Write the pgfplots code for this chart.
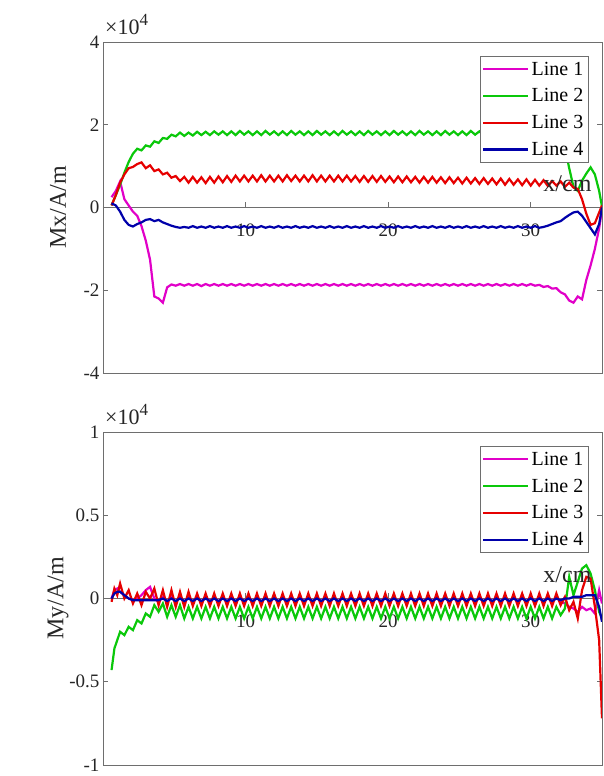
\documentclass[border=0pt]{standalone}
\usepackage{pgfplots}
\pgfplotsset{compat=1.18}
\usepackage{pgfplotstable}
\usepackage{fontspec}
\setmainfont{Liberation Serif}
\definecolor{c1}{RGB}{225,0,200}
\definecolor{c2}{RGB}{10,200,10}
\definecolor{c3}{RGB}{230,0,0}
\definecolor{c4}{RGB}{0,0,170}
\definecolor{axc}{RGB}{110,110,110}

\pgfplotstableread{
x a b c d
0.6 0.25 0.05 0.05 0.10
0.9 0.40 0.30 0.30 0.05
1.2 0.63 0.55 0.60 -0.10
1.5 0.20 0.84 0.80 -0.30
1.8 0.05 1.10 0.95 -0.42
2.1 -0.10 1.30 0.98 -0.46
2.4 -0.20 1.42 1.05 -0.40
2.7 -0.45 1.38 1.09 -0.36
3.0 -0.80 1.50 0.95 -0.30
3.3 -1.26 1.47 1.02 -0.28
3.6 -2.15 1.60 0.88 -0.33
3.9 -2.20 1.56 0.92 -0.30
4.2 -2.30 1.68 0.80 -0.36
4.5 -1.93 1.66 0.84 -0.40
4.8 -1.86 1.76 0.72 -0.44
5.1 -1.89 1.72 0.76 -0.47
5.4 -1.85 1.81 0.64 -0.49
5.7 -1.89 1.73 0.74 -0.47
6.0 -1.85 1.81 0.60 -0.49
6.3 -1.89 1.74 0.74 -0.45
6.6 -1.85 1.83 0.60 -0.49
6.9 -1.90 1.75 0.73 -0.46
7.2 -1.85 1.83 0.59 -0.49
7.5 -1.89 1.75 0.74 -0.45
7.8 -1.85 1.84 0.60 -0.49
8.1 -1.89 1.76 0.75 -0.46
8.4 -1.85 1.84 0.61 -0.49
8.7 -1.89 1.75 0.76 -0.45
9.0 -1.85 1.84 0.62 -0.49
9.3 -1.89 1.75 0.77 -0.46
9.6 -1.85 1.85 0.63 -0.49
9.9 -1.89 1.76 0.77 -0.45
10.2 -1.85 1.84 0.63 -0.49
10.5 -1.89 1.75 0.77 -0.46
10.8 -1.85 1.84 0.63 -0.49
11.1 -1.89 1.75 0.78 -0.45
11.4 -1.85 1.85 0.63 -0.49
11.7 -1.89 1.76 0.77 -0.46
12.0 -1.85 1.84 0.63 -0.49
12.3 -1.89 1.75 0.77 -0.45
12.6 -1.85 1.84 0.63 -0.49
12.9 -1.89 1.75 0.78 -0.46
13.2 -1.85 1.85 0.64 -0.49
13.5 -1.89 1.76 0.77 -0.45
13.8 -1.85 1.84 0.63 -0.49
14.1 -1.89 1.75 0.77 -0.46
14.4 -1.85 1.84 0.63 -0.49
14.7 -1.89 1.75 0.78 -0.45
15.0 -1.85 1.85 0.63 -0.49
15.3 -1.89 1.76 0.77 -0.46
15.6 -1.85 1.84 0.63 -0.49
15.9 -1.89 1.75 0.77 -0.45
16.2 -1.85 1.84 0.63 -0.49
16.5 -1.89 1.75 0.77 -0.46
16.8 -1.85 1.85 0.63 -0.49
17.1 -1.89 1.76 0.77 -0.45
17.4 -1.85 1.84 0.63 -0.49
17.7 -1.89 1.75 0.76 -0.46
18.0 -1.85 1.84 0.62 -0.49
18.3 -1.89 1.75 0.76 -0.45
18.6 -1.85 1.85 0.62 -0.49
18.9 -1.89 1.76 0.76 -0.46
19.2 -1.85 1.84 0.62 -0.49
19.5 -1.89 1.75 0.76 -0.45
19.8 -1.85 1.84 0.62 -0.49
20.1 -1.89 1.75 0.75 -0.46
20.4 -1.85 1.85 0.61 -0.49
20.7 -1.89 1.76 0.75 -0.45
21.0 -1.85 1.84 0.61 -0.49
21.3 -1.89 1.75 0.75 -0.46
21.6 -1.85 1.84 0.61 -0.49
21.9 -1.89 1.75 0.74 -0.45
22.2 -1.85 1.85 0.60 -0.49
22.5 -1.89 1.76 0.74 -0.46
22.8 -1.85 1.84 0.60 -0.49
23.1 -1.89 1.75 0.74 -0.45
23.4 -1.85 1.84 0.60 -0.49
23.7 -1.89 1.75 0.73 -0.46
24.0 -1.85 1.85 0.59 -0.49
24.3 -1.89 1.76 0.73 -0.45
24.6 -1.85 1.84 0.59 -0.49
24.9 -1.89 1.75 0.72 -0.46
25.2 -1.85 1.84 0.58 -0.49
25.5 -1.89 1.75 0.72 -0.45
25.8 -1.85 1.85 0.58 -0.49
26.1 -1.89 1.76 0.71 -0.46
26.4 -1.85 1.84 0.57 -0.49
26.7 -1.89 1.75 0.71 -0.45
27.0 -1.85 1.84 0.57 -0.49
27.3 -1.89 1.75 0.70 -0.46
27.6 -1.85 1.85 0.56 -0.49
27.9 -1.89 1.76 0.70 -0.45
28.2 -1.85 1.84 0.55 -0.49
28.5 -1.89 1.75 0.69 -0.46
28.8 -1.85 1.84 0.55 -0.49
29.1 -1.89 1.75 0.68 -0.45
29.4 -1.85 1.85 0.54 -0.49
29.7 -1.89 1.76 0.68 -0.46
30.0 -1.85 1.84 0.53 -0.49
30.3 -1.89 1.75 0.67 -0.45
30.6 -1.87 1.84 0.53 -0.49
30.9 -1.92 1.75 0.66 -0.47
31.2 -1.90 1.84 0.52 -0.44
31.5 -1.96 1.75 0.64 -0.40
31.8 -1.95 1.82 0.53 -0.36
32.1 -2.05 1.76 0.63 -0.33
32.4 -2.10 1.45 0.50 -0.25
32.7 -2.25 0.95 0.60 -0.18
33.0 -2.30 0.50 0.48 -0.12
33.3 -2.15 0.40 0.45 -0.10
33.6 -2.22 0.65 0.20 -0.20
33.9 -1.75 0.82 -0.15 -0.35
34.2 -1.40 0.97 -0.42 -0.50
34.5 -1.00 0.80 -0.38 -0.65
34.8 -0.50 0.40 -0.12 -0.40
35.0 -0.05 0.02 0.05 0.00
}\topdata

\pgfplotstableread{
x a b c d
0.6 0.00 -0.43 -0.02 0.00
0.8 0.05 -0.30 0.06 0.03
1.0 0.06 -0.25 0.02 0.04
1.2 0.04 -0.20 0.09 0.04
1.5 0.02 -0.22 0.00 0.02
1.8 0.00 -0.17 0.05 0.00
2.1 -0.01 -0.19 -0.03 -0.01
2.4 0.00 -0.13 0.03 -0.01
2.7 0.02 -0.15 -0.04 -0.01
3.0 0.05 -0.09 0.04 -0.01
3.3 0.07 -0.11 0.00 -0.01
3.6 0.00 -0.04 0.06 -0.01
3.9 -0.02 -0.08 -0.04 -0.01
4.2 0.01 -0.03 0.05 0.00
4.5 -0.02 -0.11 -0.05 -0.015
4.8 0.01 -0.04 0.05 0.00
5.1 -0.02 -0.11 -0.05 -0.015
5.4 0.01 -0.04 0.04 0.00
5.7 -0.02 -0.12 -0.05 -0.015
6.0 0.01 -0.05 0.04 0.00
6.3 -0.02 -0.12 -0.045 -0.015
6.6 0.01 -0.05 0.03 0.00
6.9 -0.02 -0.12 -0.045 -0.015
7.2 0.01 -0.05 0.03 0.00
7.5 -0.02 -0.12 -0.045 -0.015
7.8 0.01 -0.05 0.03 0.00
8.1 -0.02 -0.12 -0.045 -0.015
8.4 0.01 -0.05 0.03 0.00
8.7 -0.02 -0.12 -0.045 -0.015
9.0 0.01 -0.05 0.03 0.00
9.3 -0.02 -0.12 -0.045 -0.015
9.6 0.01 -0.05 0.03 0.00
9.9 -0.02 -0.12 -0.045 -0.015
10.2 0.01 -0.05 0.03 0.00
10.5 -0.02 -0.12 -0.045 -0.015
10.8 0.01 -0.05 0.03 0.00
11.1 -0.02 -0.12 -0.045 -0.015
11.4 0.01 -0.05 0.03 0.00
11.7 -0.02 -0.12 -0.045 -0.015
12.0 0.01 -0.05 0.03 0.00
12.3 -0.02 -0.12 -0.045 -0.015
12.6 0.01 -0.05 0.03 0.00
12.9 -0.02 -0.12 -0.045 -0.015
13.2 0.01 -0.05 0.03 0.00
13.5 -0.02 -0.12 -0.045 -0.015
13.8 0.01 -0.05 0.03 0.00
14.1 -0.02 -0.12 -0.045 -0.015
14.4 0.01 -0.05 0.03 0.00
14.7 -0.02 -0.12 -0.045 -0.015
15.0 0.01 -0.05 0.03 0.00
15.3 -0.02 -0.12 -0.045 -0.015
15.6 0.01 -0.05 0.03 0.00
15.9 -0.02 -0.12 -0.045 -0.015
16.2 0.01 -0.05 0.03 0.00
16.5 -0.02 -0.12 -0.045 -0.015
16.8 0.01 -0.05 0.03 0.00
17.1 -0.02 -0.12 -0.045 -0.015
17.4 0.01 -0.05 0.03 0.00
17.7 -0.02 -0.12 -0.045 -0.015
18.0 0.01 -0.05 0.03 0.00
18.3 -0.02 -0.12 -0.045 -0.015
18.6 0.01 -0.05 0.03 0.00
18.9 -0.02 -0.12 -0.045 -0.015
19.2 0.01 -0.05 0.03 0.00
19.5 -0.02 -0.12 -0.045 -0.015
19.8 0.01 -0.05 0.03 0.00
20.1 -0.02 -0.12 -0.045 -0.015
20.4 0.01 -0.05 0.03 0.00
20.7 -0.02 -0.12 -0.045 -0.015
21.0 0.01 -0.05 0.03 0.00
21.3 -0.02 -0.12 -0.045 -0.015
21.6 0.01 -0.05 0.03 0.00
21.9 -0.02 -0.12 -0.045 -0.015
22.2 0.01 -0.05 0.03 0.00
22.5 -0.02 -0.12 -0.045 -0.015
22.8 0.01 -0.05 0.03 0.00
23.1 -0.02 -0.12 -0.045 -0.015
23.4 0.01 -0.05 0.03 0.00
23.7 -0.02 -0.12 -0.045 -0.015
24.0 0.01 -0.05 0.03 0.00
24.3 -0.02 -0.12 -0.045 -0.015
24.6 0.01 -0.05 0.03 0.00
24.9 -0.02 -0.12 -0.045 -0.015
25.2 0.01 -0.05 0.03 0.00
25.5 -0.02 -0.12 -0.045 -0.015
25.8 0.01 -0.05 0.03 0.00
26.1 -0.02 -0.12 -0.045 -0.015
26.4 0.01 -0.05 0.03 0.00
26.7 -0.02 -0.12 -0.045 -0.015
27.0 0.01 -0.05 0.03 0.00
27.3 -0.02 -0.12 -0.045 -0.015
27.6 0.01 -0.05 0.03 0.00
27.9 -0.02 -0.12 -0.045 -0.015
28.2 0.01 -0.05 0.03 0.00
28.5 -0.02 -0.12 -0.045 -0.015
28.8 0.01 -0.05 0.03 0.00
29.1 -0.02 -0.12 -0.045 -0.015
29.4 0.01 -0.05 0.03 0.00
29.7 -0.02 -0.12 -0.045 -0.015
30.0 0.01 -0.05 0.03 0.00
30.3 -0.02 -0.12 -0.045 -0.015
30.6 0.01 -0.05 0.03 0.00
30.9 -0.02 -0.12 -0.045 -0.015
31.2 0.01 -0.05 0.03 0.00
31.5 -0.02 -0.12 -0.045 -0.015
31.8 0.01 -0.05 0.03 0.00
32.1 -0.02 -0.10 -0.04 -0.01
32.4 -0.03 -0.06 0.01 0.00
32.7 -0.05 0.13 -0.07 0.00
33.0 -0.06 0.02 -0.02 0.01
33.3 -0.08 0.10 -0.12 0.01
33.6 -0.05 0.18 0.05 0.01
33.9 -0.07 0.20 0.13 0.02
34.2 -0.06 0.15 0.12 0.02
34.5 -0.09 0.05 -0.05 0.02
34.8 0.05 -0.08 -0.25 -0.05
35.0 -0.03 -0.12 -0.72 -0.14
}\botdata

\newcommand{\timesten}{×10\raisebox{0.45em}{\fontsize{17}{19}\selectfont 4}}

\pgfplotsset{
  myax/.style={
    scale only axis, width=499pt,
    xmin=0, xmax=35,
    clip mode=individual,
    axis x line*=middle, axis y line*=box,
    xtick={10,20,30}, xticklabels={10,20,30},
    tick align=inside, ytick pos=both,
    major tick length=5pt,
    axis line style={axc, line width=0.7pt},
    every tick/.style={axc, line width=0.7pt},
    font=\fontsize{19}{23}\selectfont,
    tick label style={font=\fontsize{19}{23}\selectfont, text=black!85},
    xticklabel style={yshift=-13pt},
    xlabel={x/cm},
    xlabel style={at={(rel axis cs:0.986,0.5)}, anchor=base east, yshift=16pt,
      text=black!85, font=\fontsize{24}{28}\selectfont},
    ylabel style={at={(rel axis cs:0,0.5)}, anchor=center, yshift=45pt,
      text=black!85, font=\fontsize{24}{28}\selectfont},
    legend style={at={(rel axis cs:0.972,0.957)}, anchor=north east, draw=axc, fill=white,
      font=\fontsize{20}{24}\selectfont, inner xsep=2pt, inner ysep=3pt, row sep=7pt,
      nodes={inner sep=2.5pt}, legend cell align=left},
    legend image code/.code={\draw[##1, line width=2.2pt] (0pt,0pt) -- (45pt,0pt);},
    every axis plot/.append style={line width=2.2pt},
  }
}

\begin{document}
\begin{tikzpicture}
\useasboundingbox (0,0) rectangle (604pt,776pt);
\begin{axis}[myax, at={(103pt,403pt)}, anchor=south west, height=331pt,
  ymin=-4, ymax=4, ytick={-4,-2,0,2,4}, yticklabels={-4,-2,0,2,4},
  ylabel={Mx/A/m}]
\addplot[c1] table[x=x, y=a] {\topdata};
\addplot[c2] table[x=x, y=b] {\topdata};
\addplot[c3] table[x=x, y=c] {\topdata};
\addplot[c4] table[x=x, y=d] {\topdata};
\legend{Line 1, Line 2, Line 3, Line 4}
\draw[axc, line width=0.7pt] (rel axis cs:0,0) rectangle (rel axis cs:1,1);
\node[anchor=base west, inner sep=0pt, xshift=2pt, yshift=7pt, text=black!85,
  font=\fontsize{22}{26}\selectfont] at (rel axis cs:0,1) {\timesten};
\end{axis}
\begin{axis}[myax, at={(103pt,11pt)}, anchor=south west, height=333pt,
  ymin=-1, ymax=1, ytick={-1,-0.5,0,0.5,1}, yticklabels={-1,-0.5,0,0.5,1},
  ylabel={My/A/m}]
\addplot[c1] table[x=x, y=a] {\botdata};
\addplot[c2] table[x=x, y=b] {\botdata};
\addplot[c3] table[x=x, y=c] {\botdata};
\addplot[c4] table[x=x, y=d] {\botdata};
\legend{Line 1, Line 2, Line 3, Line 4}
\draw[axc, line width=0.7pt] (rel axis cs:0,0) rectangle (rel axis cs:1,1);
\node[anchor=base west, inner sep=0pt, xshift=2pt, yshift=7pt, text=black!85,
  font=\fontsize{22}{26}\selectfont] at (rel axis cs:0,1) {\timesten};
\end{axis}
\end{tikzpicture}
\end{document}
